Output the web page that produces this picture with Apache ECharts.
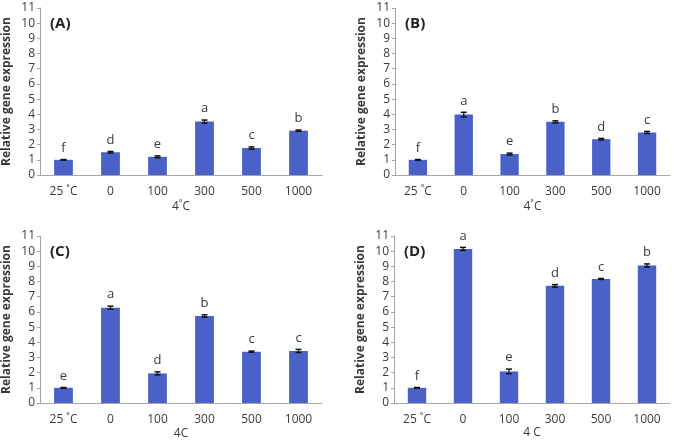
<!DOCTYPE html>
<html><head><meta charset="utf-8">
<script src="https://cdn.jsdelivr.net/npm/echarts@6/dist/echarts.min.js"></script>
<style>html,body{margin:0;padding:0;background:#fff}#c{width:677px;height:445px}</style>
</head><body><div id="c"></div>
<script>
const categories = ['25 ˚C', '0', '100', '300', '500', '1000'];
const yTicks = [0,1,2,3,4,5,6,7,8,9,10,11];
const panelLabels = ['(A)', '(B)', '(C)', '(D)'];
const xNames = ['4˚C', '4˚C', '4C', '4 C'];
const valuesA = [1.0, 1.5, 1.2, 3.52, 1.78, 2.92];
const errorsA = [0.02, 0.05, 0.06, 0.1, 0.07, 0.04];
const lettersA = ['f','d','e','a','c','b'];
const valuesB = [1.0, 3.98, 1.38, 3.5, 2.36, 2.8];
const errorsB = [0.02, 0.15, 0.06, 0.07, 0.05, 0.07];
const lettersB = ['f','a','e','b','d','c'];
const valuesC = [1.0, 6.28, 1.95, 5.73, 3.38, 3.43];
const errorsC = [0.02, 0.1, 0.1, 0.08, 0.04, 0.1];
const lettersC = ['e','a','d','b','c','c'];
const valuesD = [1.0, 10.15, 2.08, 7.72, 8.17, 9.06];
const errorsD = [0.02, 0.1, 0.15, 0.08, 0.03, 0.1];
const lettersD = ['f','a','e','d','c','b'];

const allValues = [valuesA, valuesB, valuesC, valuesD];
const allErrors = [errorsA, errorsB, errorsC, errorsD];
const allLetters = [lettersA, lettersB, lettersC, lettersD];

const grids = [
  {left: 40, top: 8, width: 282, height: 167},
  {left: 395, top: 8, width: 275, height: 167},
  {left: 40, top: 236, width: 282, height: 167},
  {left: 394, top: 236, width: 276, height: 167}
];
const nameGaps = [26, 26, 25, 23];
const FONT = 'Open Sans';
const txt = '#3a3a3a';
const barColor = '#4a62c8';

const xAxis = [], yAxis = [], series = [], title = [];
grids.forEach((g, i) => {
  xAxis.push({
    type: 'category', gridIndex: i, data: categories,
    axisLine: {lineStyle: {color: '#a6a6a6', width: 1}},
    axisTick: {show: false},
    axisLabel: {color: txt, fontFamily: FONT, fontSize: 12, margin: 11},
    name: xNames[i], nameLocation: 'middle', nameGap: nameGaps[i],
    nameTextStyle: {color: txt, fontFamily: FONT, fontSize: 12, verticalAlign: 'top'}
  });
  yAxis.push({
    type: 'value', gridIndex: i, min: 0, max: yTicks[yTicks.length-1], interval: 1,
    axisLine: {show: true, lineStyle: {color: '#a6a6a6', width: 1}},
    axisTick: {show: true, length: 3, lineStyle: {color: '#a6a6a6'}},
    splitLine: {show: false},
    axisLabel: {color: txt, fontFamily: FONT, fontSize: 12, margin: 5},
    name: 'Relative gene expression', nameLocation: 'middle', nameGap: 27,
    nameTextStyle: {color: txt, fontFamily: FONT, fontSize: 12, fontWeight: 'bold'}
  });
  series.push({
    type: 'bar', xAxisIndex: i, yAxisIndex: i, data: allValues[i],
    barWidth: '40%', itemStyle: {color: barColor}, silent: true
  });
  const vals = allValues[i], errs = allErrors[i], lets = allLetters[i];
  series.push({
    type: 'custom', xAxisIndex: i, yAxisIndex: i, silent: true, z: 5,
    data: vals.map((v, k) => [k, v, errs[k], lets[k]]),
    encode: {x: 0, y: 1},
    renderItem: function (params, api) {
      const k = api.value(0), v = api.value(1), e = api.value(2);
      const hi = api.coord([k, v + e]);
      const lo = api.coord([k, v - e]);
      const cx = hi[0];
      const cap = 3;
      return {
        type: 'group',
        children: [
          {type: 'line', shape: {x1: cx, y1: hi[1], x2: cx, y2: lo[1]}, style: {stroke: '#111', lineWidth: 1.2}},
          {type: 'line', shape: {x1: cx - cap, y1: hi[1], x2: cx + cap, y2: hi[1]}, style: {stroke: '#111', lineWidth: 1.5}},
          {type: 'line', shape: {x1: cx - cap, y1: lo[1], x2: cx + cap, y2: lo[1]}, style: {stroke: '#111', lineWidth: 1.5}},
          {type: 'text', x: cx, y: hi[1] - 5, style: {text: lets[k], textAlign: 'center', textVerticalAlign: 'bottom', fill: txt, font: '13px "Open Sans"'}}
        ]
      };
    }
  });
  title.push({
    text: panelLabels[i], left: g.left + 5, top: g.top + 3,
    textStyle: {fontFamily: FONT, fontSize: 15, fontWeight: 'bold', color: '#222'}
  });
});

const chart = echarts.init(document.getElementById('c'), null, {renderer: 'canvas'});
chart.setOption({
  animation: false,
  backgroundColor: '#fff',
  title: title,
  grid: grids,
  xAxis: xAxis,
  yAxis: yAxis,
  series: series
});
</script>
</body></html>
